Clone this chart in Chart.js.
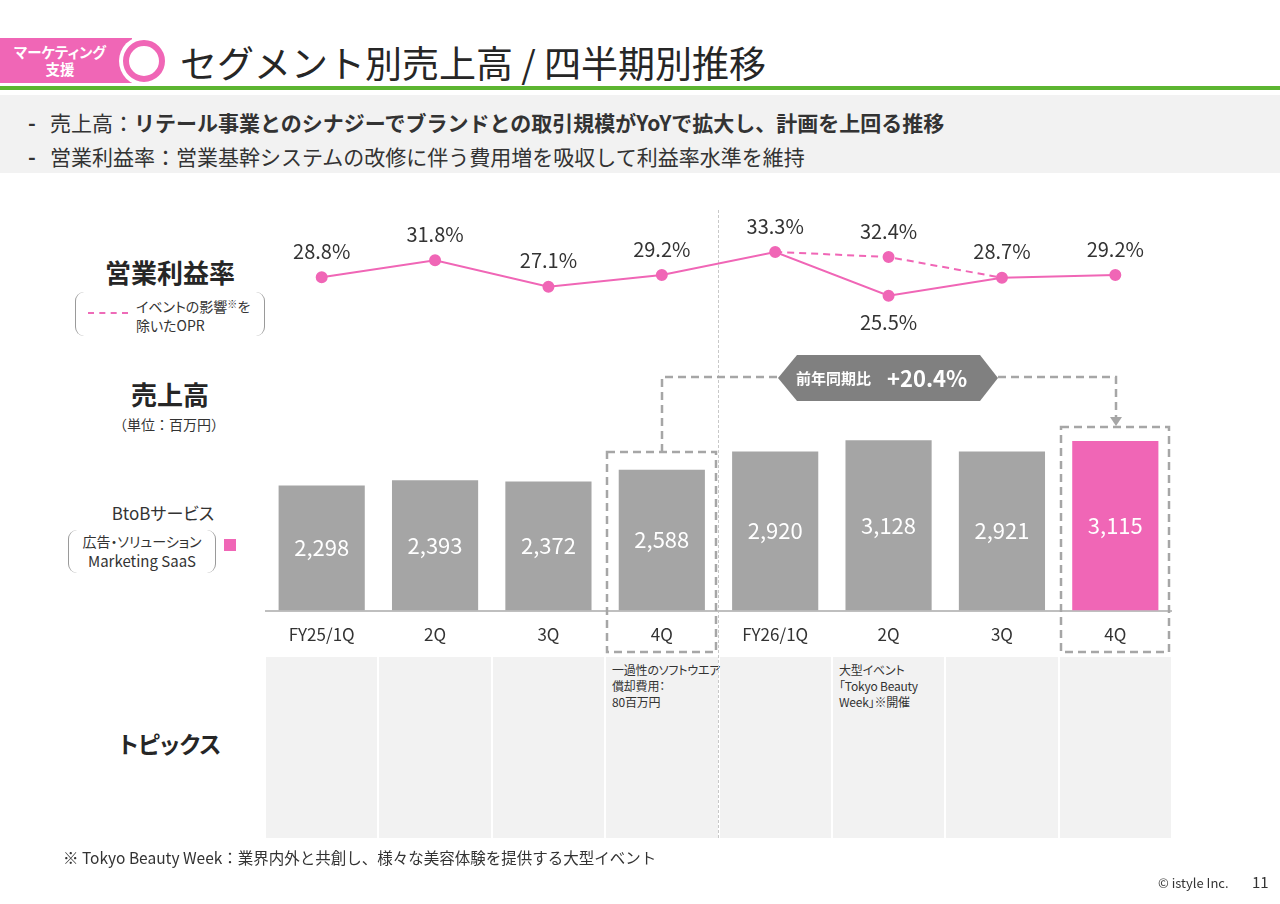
<!DOCTYPE html>
<html lang="ja">
<head>
<meta charset="UTF-8" />
<title>セグメント別売上高 / 四半期別推移</title>
<style>
  html, body { margin: 0; padding: 0; background: #fff; }
  body { width: 1280px; height: 904px; position: relative; overflow: hidden;
         font-family: "Noto Sans CJK JP", "Noto Sans", sans-serif; color: #333;
         font-feature-settings: "palt"; }
  .abs { position: absolute; }
  .full { font-feature-settings: normal; }
  .tag { left: 0; top: 38px; width: 132px; height: 45px; background: #f066b6; color: #fff;
         font-weight: bold; font-size: 14.5px; line-height: 17px; text-align: center; padding-top: 5px; box-sizing: border-box; }
  .tag span { display: block; width: 120px; }
  .ring { left: 119px; top: 36px; width: 50px; height: 50px; border-radius: 50%; background: #fff; }
  .ring::after { content: ""; position: absolute; left: 4px; top: 4px; width: 30px; height: 30px;
                 border: 6px solid #f066b6; border-radius: 50%; background: #fff; }
  .title { left: 180px; top: 37px; font-size: 37px; line-height: 50px; color: #262626; }
  .green { left: 0; top: 86px; width: 1280px; height: 4px; background: #5cb531; }
  .band { left: 0; top: 95px; width: 1280px; height: 78px; background: #f2f2f2; }
  .bullet { left: 28px; font-size: 21px; line-height: 28px; white-space: nowrap; }
  .bullet b.d { display: inline-block; width: 22px; }
  .lbl { text-align: center; white-space: nowrap; }
  .big { font-size: 26px; font-weight: bold; color: #262626; }
  .brk { border-left: 1.5px solid #9a9a9a; border-right: 1.5px solid #9a9a9a; border-radius: 9px; box-sizing: border-box; }
  .cell { background: #f2f2f2; top: 657px; height: 181px; }
  .topic { font-size: 12px; line-height: 16px; color: #333; padding: 5px 0 0 5px; white-space: nowrap; letter-spacing: -0.2px; }
  #chartWrap { left: 265px; top: 200px; width: 907px; height: 459px; }
</style>
</head>
<body>
  <div class="abs tag"><span>マーケティング</span><span>支援</span></div>
  <div class="abs ring"></div>
  <div class="abs title full">セグメント別売上高 / 四半期別推移</div>
  <div class="abs green"></div>
  <div class="abs band"></div>
  <div class="abs bullet full" style="top:108px"><b class="d">-</b>売上高：<b>リテール事業とのシナジーでブランドとの取引規模がYoYで拡大し、計画を上回る推移</b></div>
  <div class="abs bullet full" style="top:142px"><b class="d">-</b>営業利益率：営業基幹システムの改修に伴う費用増を吸収して利益率水準を維持</div>

  <!-- left labels -->
  <div class="abs lbl big" style="left:70px;top:253px;width:200px">営業利益率</div>
  <div class="abs brk" style="left:75px;top:292px;width:190px;height:44px"></div>
  <div class="abs" style="left:88px;top:312px;width:40px;border-top:2px dashed #ee6bb8"></div>
  <div class="abs" style="left:136px;top:294px;font-size:14px;line-height:19px;white-space:nowrap">イベントの影響<span style="font-size:10px;vertical-align:4px">※</span>を<br>除いたOPR</div>
  <div class="abs lbl big" style="left:70px;top:375px;width:200px">売上高</div>
  <div class="abs lbl full" style="left:69px;top:414px;width:200px;font-size:14px">（単位：百万円）</div>
  <div class="abs lbl" style="left:63px;top:500px;width:200px;font-size:17px">BtoBサービス</div>
  <div class="abs brk" style="left:68px;top:530px;width:148px;height:43px"></div>
  <div class="abs lbl" style="left:68px;top:531px;width:148px;font-size:14px;line-height:20px">広告・ソリューション<br><span style="font-size:15px">Marketing SaaS</span></div>
  <div class="abs" style="left:224px;top:539px;width:12px;height:12px;background:#f066b6"></div>
  <div class="abs lbl big" style="left:70px;top:726px;width:200px;font-size:23px">トピックス</div>

  <!-- topics row -->
  <div id="cells"></div>
  <div class="abs topic" style="left:607px;top:657px">一過性のソフトウエア<br>償却費用：<br>80百万円</div>
  <div class="abs topic" style="left:834px;top:657px">大型イベント<br>「Tokyo Beauty<br>Week」※開催</div>

  <!-- fiscal year separator -->
  <div class="abs" style="left:718px;top:210px;height:628px;border-left:1.5px dashed #c8c8c8"></div>

  <div class="abs" id="chartWrap"><canvas id="chart"></canvas></div>

  <!-- yoy callout -->
  <svg class="abs" style="left:0;top:0" width="1280" height="904">
    <g fill="none" stroke="#a6a6a6" stroke-width="2.5" stroke-dasharray="8,5">
      <rect x="607" y="452" width="109" height="200" />
      <rect x="1061" y="427" width="108" height="225" />
      <polyline points="662,452 662,377 778,377" />
      <polyline points="998,377 1116,377 1116,418" />
    </g>
    <polygon points="1110,417 1122,417 1116,426" fill="#a6a6a6" />
    <polygon points="778,378 797,355 980,355 998,378 980,401 797,401" fill="#808080" />
    <text x="796" y="384" fill="#fff" font-size="15" font-weight="bold">前年同期比</text>
    <text x="887" y="387" fill="#fff" font-size="22" font-weight="bold">+20.4%</text>
  </svg>

  <div class="abs full" style="left:63px;top:846px;font-size:15.5px;white-space:nowrap">※ Tokyo Beauty Week：業界内外と共創し、様々な美容体験を提供する大型イベント</div>
  <div class="abs" style="left:1158px;top:873px;font-size:13px">© istyle Inc.</div>
  <div class="abs" style="left:1252px;top:871px;font-size:15px">11</div>

  <script src="https://cdn.jsdelivr.net/npm/chart.js"></script>
  <script>
    const categories = ["FY25/1Q", "2Q", "3Q", "4Q", "FY26/1Q", "2Q", "3Q", "4Q"];
    const sales = [2298, 2393, 2372, 2588, 2920, 3128, 2921, 3115];
    const opr = [28.8, 31.8, 27.1, 29.2, 33.3, 25.5, 28.7, 29.2];
    const oprExEvent = [null, null, null, null, 33.3, 32.4, 28.7, null];

    const PINK = "#f066b6";
    const GRAY = "#a5a5a5";
    const FONT = '"Noto Sans CJK JP", "Noto Sans", sans-serif';

    // topic cells follow the category columns
    const cells = document.getElementById("cells");
    const colW = 907 / categories.length;
    categories.forEach((c, i) => {
      const d = document.createElement("div");
      d.className = "abs cell";
      d.style.left = (265 + i * colW + 1) + "px";
      d.style.width = (colW - 2) + "px";
      cells.appendChild(d);
    });

    // value labels for bars and the margin lines
    const valueLabels = {
      id: "valueLabels",
      afterDatasetsDraw(chart) {
        const ctx = chart.ctx;
        ctx.save();
        ctx.textAlign = "center";
        ctx.textBaseline = "middle";
        chart.data.datasets.forEach((ds, di) => {
          const meta = chart.getDatasetMeta(di);
          meta.data.forEach((el, i) => {
            const v = ds.data[i];
            if (v == null) return;
            if (ds.type === "bar") {
              ctx.fillStyle = "#fff";
              ctx.font = "22px " + FONT;
              ctx.fillText(v.toLocaleString("en-US"), el.x, (el.y + el.base) / 2);
            } else {
              if (di === 2 && v === opr[i]) return;
              let dy = -26;
              if (di === 1 && oprExEvent[i] != null && oprExEvent[i] > v) dy = 27;
              ctx.fillStyle = "#333";
              ctx.font = "20px " + FONT;
              ctx.fillText(v.toFixed(1) + "%", el.x, el.y + dy);
            }
          });
        });
        ctx.restore();
      }
    };

    new Chart(document.getElementById("chart"), {
      type: "bar",
      data: {
        labels: categories,
        datasets: [
          {
            type: "bar",
            data: sales,
            yAxisID: "y",
            backgroundColor: ctx => ctx.dataIndex === sales.length - 1 ? PINK : GRAY,
            barPercentage: 0.76,
            categoryPercentage: 1,
            order: 3
          },
          {
            type: "line",
            data: opr,
            yAxisID: "y2",
            borderColor: PINK,
            backgroundColor: PINK,
            borderWidth: 2,
            pointRadius: 5,
            pointHoverRadius: 5,
            tension: 0,
            order: 1
          },
          {
            type: "line",
            data: oprExEvent,
            yAxisID: "y2",
            borderColor: PINK,
            backgroundColor: PINK,
            borderWidth: 2,
            borderDash: [7, 5],
            pointRadius: ctx => (oprExEvent[ctx.dataIndex] != null && oprExEvent[ctx.dataIndex] !== opr[ctx.dataIndex]) ? 5 : 0,
            tension: 0,
            spanGaps: false,
            order: 2
          }
        ]
      },
      options: {
        responsive: true,
        maintainAspectRatio: false,
        animation: false,
        layout: { padding: 0, autoPadding: false },
        plugins: { legend: { display: false }, tooltip: { enabled: false } },
        scales: {
          x: {
            offset: true,
            grid: { display: false, drawTicks: false },
            border: { display: true, color: "#bfbfbf", width: 2 },
            ticks: { color: "#333", padding: 14, font: { family: FONT, size: 17 } }
          },
          y: { display: false, min: 0, max: 7540 },
          y2: { display: false, min: -30.69, max: 42.57 }
        }
      },
      plugins: [valueLabels]
    });
  </script>
</body>
</html>
